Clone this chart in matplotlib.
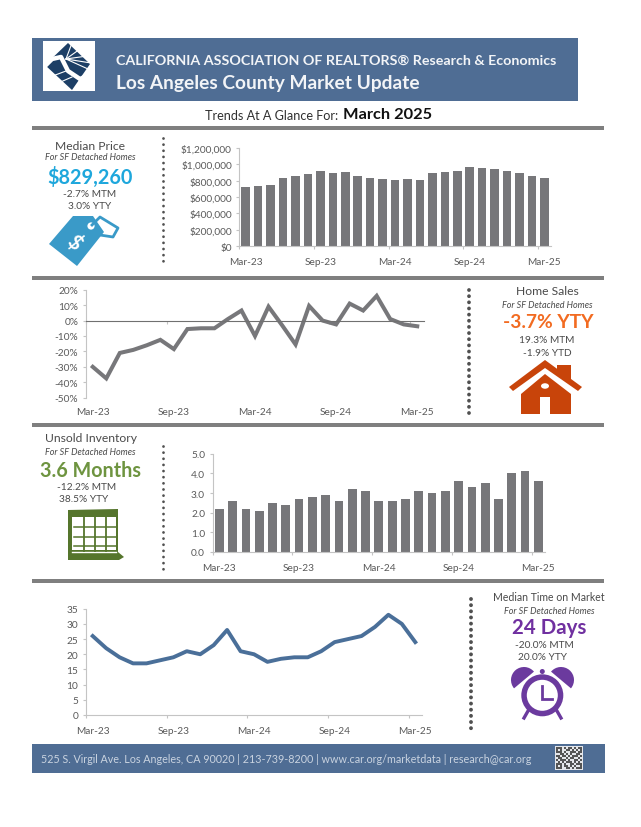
# Description: CAR Los Angeles County market update one pager
import matplotlib
matplotlib.use('Agg')
import matplotlib.pyplot as plt
from matplotlib.patches import Rectangle, Polygon, Circle, Ellipse, Wedge

plt.rcParams['font.family'] = ['Lato', 'DejaVu Sans']

W, H = 641, 828

# chart data
months = ['Mar-23', 'Apr-23', 'May-23', 'Jun-23', 'Jul-23', 'Aug-23', 'Sep-23', 'Oct-23', 'Nov-23',
          'Dec-23', 'Jan-24', 'Feb-24', 'Mar-24', 'Apr-24', 'May-24', 'Jun-24', 'Jul-24', 'Aug-24',
          'Sep-24', 'Oct-24', 'Nov-24', 'Dec-24', 'Jan-25', 'Feb-25', 'Mar-25']
median_price = [720000, 740000, 748000, 833000, 858000, 882000, 915000, 894000, 902000,
                858000, 833000, 817000, 805000, 825000, 813000, 890000, 910000, 922000,
                963000, 959000, 939000, 915000, 890000, 858000, 829260]
home_sales = [-30, -37.5, -21, -19, -16, -12.5, -18.5, -5.5, -5, -5, 1, 6.5, -10,
              9, -3, -15.5, 9.5, 0, -2.5, 11, 6.5, 16, 1, -2.5, -3.7]
inventory = [2.2, 2.6, 2.2, 2.1, 2.5, 2.4, 2.7, 2.8, 2.9, 2.6, 3.2, 3.1, 2.6,
             2.6, 2.7, 3.1, 3.0, 3.1, 3.6, 3.3, 3.5, 2.7, 4.0, 4.1, 3.6]
time_on_market = [26, 22, 19, 17, 17, 18, 19, 21, 20, 23, 28, 21, 20,
                  17.5, 18.5, 19, 19, 21, 24, 25, 26, 29, 33, 30, 24]

price_ticks = [0, 200000, 400000, 600000, 800000, 1000000, 1200000]
sales_ticks = [-50, -40, -30, -20, -10, 0, 10, 20]
inventory_ticks = [0, 1, 2, 3, 4, 5]
time_ticks = [0, 5, 10, 15, 20, 25, 30, 35]

BLUE = '#4F6D94'
RULE = '#7F7F7F'
GREY = '#77777A'
TXT = '#4A4A4A'
AXC = '#C4C4C4'

fig = plt.figure(figsize=(W / 100, H / 100), dpi=100, facecolor='white')
bg = fig.add_axes([0, 0, 1, 1])
bg.set_xlim(0, W)
bg.set_ylim(H, 0)
bg.axis('off')


def label(x, y, s, size=8, color=TXT, **kw):
    kw.setdefault('ha', 'center')
    bg.text(x, y, s, fontsize=size, color=color, va='center', **kw)


def rect(x0, y0, x1, y1, color):
    bg.add_patch(Rectangle((x0, y0), x1 - x0, y1 - y0, fc=color, ec='none'))


def dots(x, y0, y1, size, gap):
    bg.plot([x, x], [y0, y1], color='#505050', lw=size * 0.72,
            linestyle=(0, (0.01, gap / (size * 0.72))), dash_capstyle='round')


def chart(left, top, right, bottom, label_offset=-11):
    ax = fig.add_axes([left / W, 1 - bottom / H, (right - left) / W, (bottom - top) / H])
    ax.patch.set_alpha(0)
    ax.spines['top'].set_visible(False)
    ax.spines['right'].set_visible(False)
    ax.spines['left'].set_color(AXC)
    ax.spines['bottom'].set_color(AXC)
    ax.set_xlim(-0.5, len(months) - 0.5)
    # ticks sit on category edges, labels on category centres
    ax.set_xticks([i - 0.5 for i in range(0, 25, 6)])
    ax.set_xticklabels([])
    ax.tick_params(axis='x', which='major', length=2.5, color=AXC, width=0.8)
    ax.tick_params(axis='y', length=2.5, color=AXC, width=0.8, labelsize=7.3, labelcolor='#5A5A5A', pad=3)
    for i in range(0, 25, 6):
        ax.annotate(months[i], (i, 0), xycoords=ax.get_xaxis_transform(), xytext=(0, label_offset),
                    textcoords='offset points', ha='center', va='center', fontsize=7.3, color='#5A5A5A')
    return ax


# header
rect(32, 39, 578, 102, BLUE)
rect(43, 42, 95, 92, 'white')
navy = '#1D3F66'
bg.add_patch(Polygon([(68, 44), (90, 65), (72, 91), (45, 66)], fc=navy, ec='none'))
for end in [(72, 44), (80, 50), (87, 57), (91, 64), (88, 70)]:
    bg.plot([66, end[0]], [60, end[1]], color='white', lw=0.8)
bg.plot([46, 52, 61, 68, 80, 89], [66, 60, 58, 72, 80, 76], color='white', lw=3.2)
bg.plot([50, 66], [78, 72], color='white', lw=0.8)
bg.plot([56, 72], [85, 78], color='white', lw=0.8)

label(116, 60.5, 'CALIFORNIA ASSOCIATION OF REALTORS® Research & Economics', 10.25, '#F2F4F7',
      ha='left', fontweight='bold')
label(116, 83, 'Los Angeles County Market Update', 13.8, '#F2F4F7', ha='left', fontweight='bold')
label(205, 116, 'Trends At A Glance For:', 9.1, '#303030', ha='left')
label(343, 115, 'March 2025', 11.8, '#111111', ha='left', fontweight='bold')

# section rules and footer
for y in [129, 279, 426, 582]:
    rect(32, y - 2, 604, y + 2, RULE)
rect(32, 745, 605, 774, BLUE)
label(41, 760, '525 S. Virgil Ave. Los Angeles, CA 90020 | 213-739-8200 | www.car.org/marketdata | research@car.org',
      7.75, '#C9D3E0', ha='left')

# qr block in the footer
qr_rows = ['1110101101011', '1010011010101', '1110100111011', '0011010100110', '1101101011101',
           '0110010110010', '1011101001101', '0101011101010', '1110100110111', '1010110101001',
           '1110011010111']
rect(555, 747, 583, 771, '#E4E6EA')
for r, row in enumerate(qr_rows):
    for c, v in enumerate(row):
        if v == '1':
            rect(556 + c * 2, 748 + r * 2, 558 + c * 2, 750 + r * 2, '#555555')

# separators
dots(163, 139, 267, 2.8, 4.4)
dots(469, 291, 419, 3.8, 4.4)
dots(163, 447, 570, 2.8, 4.4)
dots(470.5, 600, 733, 3.9, 4.4)

# median price
ax = chart(239.5, 149, 550.6, 247)
ax.bar(range(25), median_price, width=0.68, color=GREY)
ax.set_ylim(0, 1200000)
ax.set_yticks(price_ticks)
ax.set_yticklabels(['${:,}'.format(v) for v in price_ticks])

label(90, 146, 'Median Price', 8.7)
label(90, 158, 'For SF Detached Homes', 6.5, style='italic')
label(90, 177, '$829,260', 14.3, '#1EA7DC', fontweight='bold')
label(90, 195, '-2.7% MTM', 7.3)
label(90, 207, '3.0% YTY', 7.3)

tag = '#3A9AC8'
bg.add_patch(Polygon([(49, 245), (73, 217), (93, 217), (104, 233), (77, 267)], fc=tag, ec='none'))
bg.add_patch(Circle((91, 227), 3.6, fc='white', ec='none'))
bg.plot([92, 100, 118, 113, 100, 97], [226, 218, 229, 238, 236, 232], color=tag, lw=2)
label(74, 243, '$', 15, 'white', rotation=-45, fontweight='bold')

# home sales
ax = chart(86, 290.7, 424, 398.7, label_offset=-10)
ax.plot(range(25), home_sales, color=GREY, lw=2.9, solid_joinstyle='miter')
ax.set_ylim(-50, 20)
ax.set_yticks(sales_ticks)
ax.set_yticklabels(['{}%'.format(v) for v in sales_ticks])
ax.spines['bottom'].set_position(('data', 0))
ax.spines['bottom'].set_color('#707070')

label(547, 292, 'Home Sales', 8.7)
label(547, 306, 'For SF Detached Homes', 6.5, style='italic')
label(548, 323, '-3.7% YTY', 13.8, '#F26B21', fontweight='bold')
label(547, 341, '19.3% MTM', 7.3)
label(547, 354, '-1.9% YTD', 7.3)

house = '#C8440A'
bg.add_patch(Polygon([(557, 366), (571, 366), (571, 385), (557, 375)], fc=house, ec='none'))
bg.add_patch(Polygon([(545, 361), (582, 388), (578, 392), (545, 369), (513, 392), (509, 388)], fc=house, ec='none'))
bg.add_patch(Polygon([(545, 375), (571, 395), (571, 415), (521, 415), (521, 395)], fc=house, ec='none'))
bg.add_patch(Rectangle((540, 398), 10, 17, fc='white', ec='none'))
bg.add_patch(Ellipse((545, 387), 8, 5.5, fc='white', ec='none'))

# unsold inventory
ax = chart(212.7, 454.7, 545, 553)
ax.bar(range(25), inventory, width=0.66, color=GREY)
ax.set_ylim(0, 5)
ax.set_yticks(inventory_ticks)
ax.set_yticklabels(['{:.1f}'.format(v) for v in inventory_ticks])

label(91, 439, 'Unsold Inventory', 8.7)
label(90, 453, 'For SF Detached Homes', 6.5, style='italic')
label(90, 471, '3.6 Months', 14.2, '#6E9440', fontweight='bold')
label(87, 488, '-12.2% MTM', 7.3)
label(84, 500, '38.5% YTY', 7.3)

cal = '#55752C'
bg.add_patch(Polygon([(68, 511), (118, 510), (118, 553), (124, 558), (119, 561), (68, 561)], fc=cal, ec='none'))
rect(72, 518, 116, 551, 'white')
bg.plot([72, 116], [552.5, 552.5], color='white', lw=1)
for x in [84, 95, 106]:
    bg.plot([x, x], [518, 552], color=cal, lw=1.3)
for y in [528, 538, 547]:
    bg.plot([74, 116], [y, y], color=cal, lw=1.1)

# time on market
ax = chart(86, 609.7, 422, 716)
ax.plot(range(25), time_on_market, color='#4A6F99', lw=2.8, solid_joinstyle='round')
ax.set_ylim(0, 35)
ax.set_yticks(time_ticks)

label(549, 598, 'Median Time on Market', 7.6)
label(549, 612, 'For SF Detached Homes', 6.5, style='italic')
label(549, 628, '24 Days', 14.8, '#7030A0', fontweight='bold')
label(544, 646, '-20.0% MTM', 7.3)
label(542, 658, '20.0% YTY', 7.3)

clock = '#6B3A9E'
bg.add_patch(Wedge((524, 681), 13, 140, 320, fc=clock, ec='none'))
bg.add_patch(Wedge((561, 681), 13, 220, 40, fc=clock, ec='none'))
bg.add_patch(Circle((542.3, 696.3), 21, fc=clock, ec='none', zorder=3))
bg.add_patch(Circle((542.3, 696.3), 15.5, fc='white', ec='none', zorder=3))
bg.add_patch(Circle((542.3, 672.5), 2.5, fc=clock, ec='none', zorder=3))
bg.plot([542.3, 542.3, 552], [687, 700, 700], color=clock, lw=2, zorder=4, solid_joinstyle='miter')
bg.plot([528, 524], [712, 719], color=clock, lw=2.4, zorder=3)
bg.plot([557, 561], [712, 719], color=clock, lw=2.4, zorder=3)

fig.savefig('out.png', dpi=100)
